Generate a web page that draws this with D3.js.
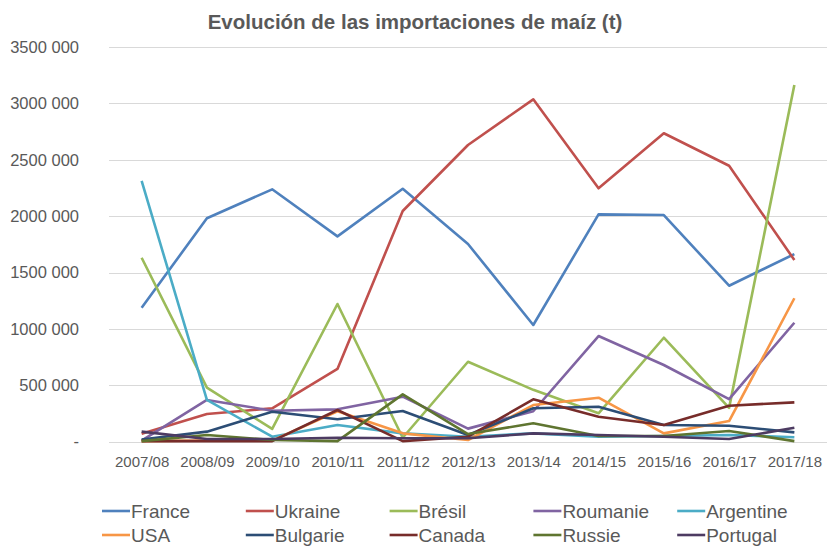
<!DOCTYPE html>
<html lang="es">
<head>
  <meta charset="UTF-8">
  <title>Importaciones de maíz</title>
  <style>
    body { margin: 0; background: #fff; }
    svg { display: block; font-family: 'Liberation Sans', Arial, sans-serif; }
    .grid line { stroke: #d9d9d9; stroke-width: 1; shape-rendering: crispEdges; }
    .axis text { fill: #595959; }
  </style>
</head>
<body>
<div id="chart"></div>
<script src="https://d3js.org/d3.v7.min.js"></script>
<script>
  // campañas
  const years = ['2007/08', '2008/09', '2009/10', '2010/11', '2011/12', '2012/13', '2013/14', '2014/15', '2015/16', '2016/17', '2017/18']
  const yTicks = [0, 500000, 1000000, 1500000, 2000000, 2500000, 3000000, 3500000]

  // valores (t)
  const france    = [1188000, 1981000, 2238000, 1821000, 2243000, 1753000, 1035000, 2016000, 2010000, 1383000, 1664000]
  const ukraine   = [70000, 245000, 296000, 645000, 2046000, 2631000, 3036000, 2247000, 2735000, 2447000, 1611000]
  const bresil    = [1631000, 479000, 113000, 1221000, 35000, 709000, 460000, 252000, 922000, 300000, 3163000]
  const roumanie  = [10000, 370000, 275000, 287000, 399000, 116000, 270000, 937000, 680000, 378000, 1055000]
  const argentine = [2312000, 370000, 44000, 148000, 74000, 44000, 74000, 44000, 50000, 60000, 40000]
  const usa       = [5000, 10000, 10000, 270000, 74000, 15000, 325000, 390000, 74000, 183000, 1272000]
  const bulgarie  = [20000, 89000, 266000, 199000, 272000, 59000, 296000, 310000, 148000, 142000, 83000]
  const canada    = [5000, 5000, 5000, 281000, 5000, 44000, 376000, 222000, 148000, 319000, 349000]
  const russie    = [5000, 59000, 15000, 5000, 420000, 68000, 163000, 50000, 50000, 95000, 5000]
  const portugal  = [89000, 24000, 24000, 35000, 30000, 30000, 74000, 59000, 44000, 24000, 124000]

  const names  = ['France', 'Ukraine', 'Brésil', 'Roumanie', 'Argentine', 'USA', 'Bulgarie', 'Canada', 'Russie', 'Portugal']
  const colors = ['#4f81bd', '#c0504d', '#9bbb59', '#8064a2', '#4bacc6', '#f79646', '#2c4d75', '#772c2a', '#5f7530', '#4d3b62']
  const values = [france, ukraine, bresil, roumanie, argentine, usa, bulgarie, canada, russie, portugal]

  let width = 827
  let height = 546
  let svg = d3.select('#chart').append('svg').attr('width', width).attr('height', height)

  let xScale = d3.scalePoint().domain(years).range([109, 827]).padding(0.5)
  let yScale = d3.scaleLinear().domain([0, 3500000]).range([441.7, 47])

  function fmt (v) {
    if (v === 0) return '-'
    return Math.floor(v / 1000) + ' ' + String(v % 1000).padStart(3, '0')
  }

  // titulo
  svg.append('text')
    .attr('x', 415).attr('y', 29)
    .attr('text-anchor', 'middle')
    .style('font-size', '20.5px').style('font-weight', 'bold')
    .attr('fill', '#595959')
    .text('Evolución de las importaciones de maíz (t)')

  // grid
  svg.append('g').attr('class', 'grid')
    .selectAll('line').data(yTicks).enter().append('line')
    .attr('x1', 109).attr('x2', 827)
    .attr('y1', d => Math.round(yScale(d)) + 0.5).attr('y2', d => Math.round(yScale(d)) + 0.5)

  // eje y
  let gY = svg.append('g').attr('class', 'axis')
    .attr('transform', 'translate(79,0)')
    .call(d3.axisLeft(yScale).tickValues(yTicks).tickFormat(fmt).tickSize(0).tickPadding(0))
  gY.select('.domain').remove()
  gY.selectAll('text').style('font-size', '16.5px')

  // eje x
  let gX = svg.append('g').attr('class', 'axis')
    .attr('transform', 'translate(0,452)')
    .call(d3.axisBottom(xScale).tickSize(0).tickPadding(4))
  gX.select('.domain').remove()
  gX.selectAll('text').style('font-size', '15px')

  // lineas
  let line = d3.line().x((d, i) => xScale(years[i])).y(d => yScale(d))
  svg.append('g').selectAll('path').data(values).enter().append('path')
    .attr('fill', 'none')
    .attr('stroke', (d, i) => colors[i])
    .attr('stroke-width', 2.6)
    .attr('stroke-linejoin', 'round')
    .attr('d', line)

  // leyenda
  let leg = svg.append('g').selectAll('g').data(names).enter().append('g')
    .attr('transform', (d, i) => 'translate(' + (102 + (i % 5) * 143.8) + ',' + (511 + Math.floor(i / 5) * 24) + ')')
  leg.append('line')
    .attr('x1', 0).attr('x2', 28)
    .attr('stroke', (d, i) => colors[i]).attr('stroke-width', 2.6)
  leg.append('text')
    .attr('x', 29).attr('dy', '0.35em')
    .attr('fill', '#595959')
    .style('font-size', '19px')
    .text(d => d)
</script>
</body>
</html>
